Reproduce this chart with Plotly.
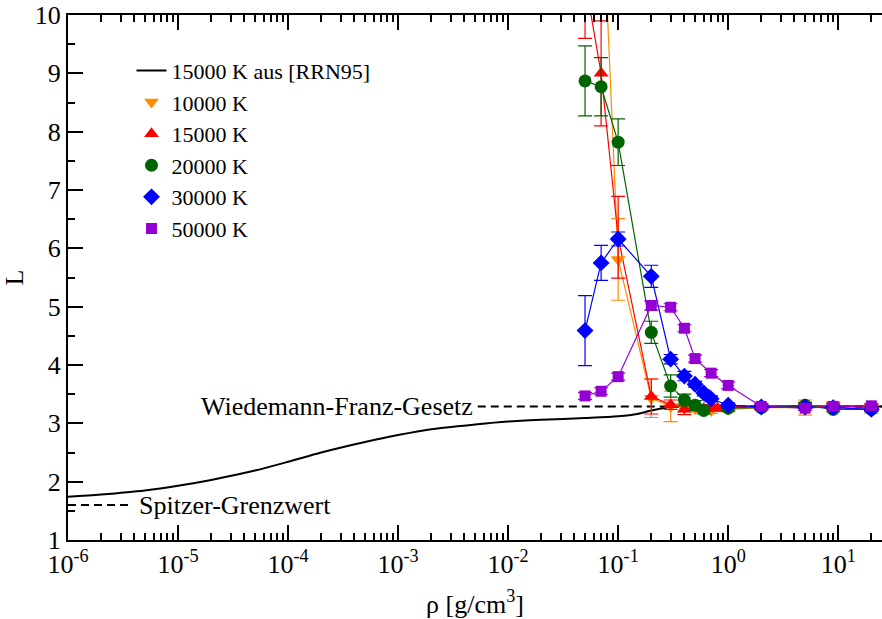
import numpy as np
import plotly.graph_objects as go

# ---------------- data ----------------
rrn_x = [1e-6, 2e-6, 5e-6, 1e-5, 2e-5, 5e-5, 1e-4, 2e-4, 5e-4, 1e-3, 2e-3, 5e-3,
         1e-2, 2e-2, 5e-2, 0.1, 0.15, 0.2, 0.3, 0.5, 1, 2, 5, 10, 25]
rrn_L = [1.74, 1.78, 1.85, 1.93, 2.03, 2.19, 2.34, 2.50, 2.68, 2.80, 2.90, 2.98,
         3.03, 3.06, 3.09, 3.12, 3.16, 3.22, 3.28, 3.29, 3.29, 3.29, 3.29, 3.29, 3.29]

wf_x = [5.3e-3, 25]
wf_L = [3.29, 3.29]
sp_x = [1e-6, 3.9e-6]
sp_L = [1.60, 1.60]

x10 = [0.07, 0.1, 0.2, 0.3, 0.4, 0.5, 0.6, 0.7, 1, 2, 5, 9, 20]
L10 = [12.5, 5.81, 3.43, 3.29, 3.26, 3.25, 3.23, 3.22, 3.24, 3.27, 3.27, 3.31, 3.22]
e10 = [1.0, 0.70, 0.33, 0.26, 0.06, 0.05, 0.05, 0.05, 0.04, 0.04, 0.13, 0.06, 0.05]

x15 = [0.05, 0.07, 0.1, 0.2, 0.3, 0.4, 0.5, 0.6, 0.7, 0.8, 1, 2, 5, 9, 20]
L15 = [10.6, 9.0, 6.19, 3.46, 3.32, 3.24, 3.27, 3.25, 3.27, 3.26, 3.28, 3.30, 3.30, 3.30, 3.28]
e15 = [1.0, 0.9, 0.70, 0.30, 0.08, 0.09, 0.05, 0.05, 0.05, 0.05, 0.04, 0.04, 0.04, 0.04, 0.04]

x20 = [0.05, 0.07, 0.1, 0.2, 0.3, 0.4, 0.5, 0.6, 1, 2, 5, 9, 20]
L20 = [8.87, 8.77, 7.82, 4.56, 3.64, 3.40, 3.31, 3.22, 3.26, 3.27, 3.31, 3.24, 3.24]
e20 = [0.60, 0.50, 0.40, 0.19, 0.19, 0.10, 0.08, 0.06, 0.05, 0.04, 0.05, 0.04, 0.04]

x30 = [0.05, 0.07, 0.1, 0.2, 0.3, 0.4, 0.5, 0.6, 0.7, 1, 2, 5, 9, 20]
L30 = [4.59, 5.75, 6.16, 5.52, 4.10, 3.81, 3.67, 3.52, 3.42, 3.31, 3.28, 3.28, 3.27, 3.24]
e30 = [0.60, 0.30, 0.12, 0.19, 0.08, 0.08, 0.05, 0.05, 0.05, 0.04, 0.03, 0.03, 0.03, 0.03]

x50 = [0.05, 0.07, 0.1, 0.2, 0.3, 0.4, 0.5, 0.7, 1, 2, 5, 9, 20]
L50 = [3.47, 3.55, 3.80, 5.02, 4.99, 4.63, 4.11, 3.86, 3.65, 3.29, 3.26, 3.29, 3.30]
e50 = [0.06, 0.06, 0.06, 0.08, 0.06, 0.06, 0.06, 0.06, 0.06, 0.04, 0.04, 0.04, 0.04]

x_tickvals = [1e-6, 1e-5, 1e-4, 1e-3, 1e-2, 1e-1, 1e0, 1e1]
x_ticktext = ["10<sup>-6</sup>", "10<sup>-5</sup>", "10<sup>-4</sup>", "10<sup>-3</sup>",
              "10<sup>-2</sup>", "10<sup>-1</sup>", "10<sup>0</sup>", "10<sup>1</sup>"]
y_tickvals = [1, 2, 3, 4, 5, 6, 7, 8, 9, 10]

series = [
    ("10000 K", x10, L10, e10, "#FF8C00", "triangle-down"),
    ("15000 K", x15, L15, e15, "#FF0000", "triangle-up"),
    ("20000 K", x20, L20, e20, "#006400", "circle"),
    ("30000 K", x30, L30, e30, "#0000FF", "diamond"),
    ("50000 K", x50, L50, e50, "#9400D3", "square"),
]

FONT = "Liberation Serif"

fig = go.Figure()
fig.add_trace(go.Scatter(x=rrn_x, y=rrn_L, mode="lines", name="15000 K aus [RRN95]",
                         line=dict(color="black", width=2, shape="spline", smoothing=0.8)))
fig.add_trace(go.Scatter(x=wf_x, y=wf_L, mode="lines", showlegend=False,
                         line=dict(color="black", width=2, dash="8px,5px")))
fig.add_trace(go.Scatter(x=sp_x, y=sp_L, mode="lines", showlegend=False,
                         line=dict(color="black", width=2, dash="8px,5px")))

# connecting lines (no legend)
for name, xs, ys, es, col, sym in series:
    fig.add_trace(go.Scatter(x=xs, y=ys, mode="lines", showlegend=False,
                             line=dict(color=col, width=1.2), hoverinfo="skip"))

# markers with error bars (legend entries)
for name, xs, ys, es, col, sym in series:
    fig.add_trace(go.Scatter(
        x=xs, y=ys, mode="markers", name=name,
        marker=dict(color=col, symbol=sym, size=13 if sym != "square" else 11,
                    line=dict(width=0)),
        error_y=dict(type="data", array=es, visible=True, color=col,
                     thickness=1.2, width=7),
    ))

minor_x = [k * 10.0 ** e for e in range(-6, 2) for k in range(2, 10)]

fig.update_layout(
    width=882, height=619,
    margin=dict(l=68, r=0, t=15, b=79),
    paper_bgcolor="white", plot_bgcolor="white",
    font=dict(family=FONT, size=25, color="black"),
    showlegend=True,
    legend=dict(x=0.078, y=0.934, xanchor="left", yanchor="top",
                bgcolor="rgba(0,0,0,0)", borderwidth=0,
                font=dict(family=FONT, size=22), itemwidth=30, tracegroupgap=0),
    xaxis=dict(type="log", range=[-6, np.log10(25)],
               tickmode="array", tickvals=x_tickvals, ticktext=x_ticktext,
               ticks="inside", ticklen=15, tickwidth=1.5, tickcolor="black",
               showline=True, linecolor="black", linewidth=2, mirror="ticks",
               showgrid=False, zeroline=False,
               minor=dict(tickvals=minor_x, ticks="inside", ticklen=7, tickwidth=1.5,
                          tickcolor="black", showgrid=False),
               tickfont=dict(family=FONT, size=26),
               title=dict(text="ρ [g/cm<sup>3</sup>]", font=dict(family=FONT, size=26),
                          standoff=17)),
    yaxis=dict(range=[1, 10], tickmode="array", tickvals=y_tickvals,
               ticks="inside", ticklen=15, tickwidth=1.5, tickcolor="black",
               showline=True, linecolor="black", linewidth=2, mirror=False,
               showgrid=False, zeroline=False,
               minor=dict(dtick=0.5, ticks="inside", ticklen=7, tickwidth=1.5,
                          tickcolor="black", showgrid=False),
               tickfont=dict(family=FONT, size=26),
               title=dict(text="L", font=dict(family=FONT, size=26), standoff=14)),
    yaxis2=dict(range=[1, 10], overlaying="y", side="right", tickmode="array",
                tickvals=y_tickvals, ticks="inside", ticklen=7, tickwidth=1.5,
                tickcolor="black", showline=False, showticklabels=False,
                showgrid=False, zeroline=False),
)

fig.add_annotation(x=np.log10(wf_x[0]), y=wf_L[0], xref="x", yref="y",
                   text="Wiedemann-Franz-Gesetz", showarrow=False,
                   xanchor="right", yanchor="middle", xshift=-3,
                   font=dict(family=FONT, size=26, color="black"))
fig.add_annotation(x=np.log10(sp_x[-1]), y=sp_L[0], xref="x", yref="y",
                   text="Spitzer-Grenzwert", showarrow=False,
                   xanchor="left", yanchor="middle", xshift=4,
                   font=dict(family=FONT, size=26, color="black"))

fig.write_html("out.html")
